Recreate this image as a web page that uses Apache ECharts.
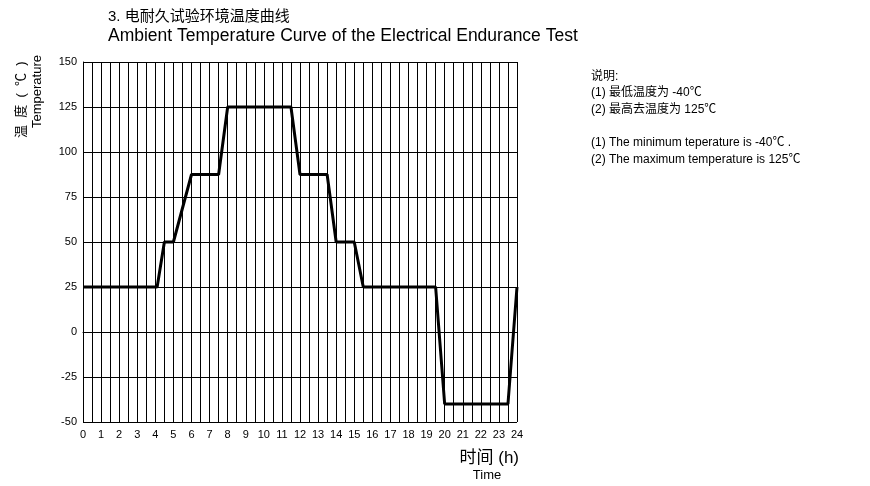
<!DOCTYPE html>
<html>
<head>
<meta charset="utf-8">
<script src="https://cdn.jsdelivr.net/npm/echarts@6/dist/echarts.min.js"></script>
<style>
  html, body { margin: 0; padding: 0; background: #fff; }
  #chart { width: 870px; height: 486px; }
</style>
</head>
<body>
<div id="chart"></div>
<script>
// 时间 (h) / 温度 (℃) 拐点
const hours = [0, 4.1, 4.5, 5, 6, 7.5, 8, 11.5, 12, 13.5, 14, 15, 15.5, 19.5, 20, 23.5, 24];
const temps = [25, 25, 50, 50, 87.5, 87.5, 125, 125, 87.5, 87.5, 50, 50, 25, 25, -40, -40, 25];

const titleLines = ['3. 电耐久试验环境温度曲线', 'Ambient Temperature Curve of the Electrical Endurance Test'];
const noteLines = [
  '说明:',
  '(1) 最低温度为 -40℃',
  '(2) 最高去温度为 125℃',
  '',
  '(1) The minimum teperature is -40℃ .',
  '(2) The maximum temperature is 125℃'
];

const font = '"Liberation Sans", Arial, "Noto Sans CJK SC", sans-serif';
const chart = echarts.init(document.getElementById('chart'));

chart.setOption({
  backgroundColor: '#fff',
  animation: false,
  textStyle: { fontFamily: font },
  grid: { left: 83, right: 353, top: 62, bottom: 64 },
  xAxis: {
    type: 'value',
    min: 0,
    max: 24,
    interval: 0.5,
    axisLine: { lineStyle: { color: '#000', width: 1 } },
    axisTick: { show: false },
    splitLine: { show: true, lineStyle: { color: '#000', width: 1 } },
    axisLabel: {
      color: '#000',
      fontSize: 11,
      margin: 7,
      formatter: v => (Number.isInteger(v) ? String(v) : '')
    }
  },
  yAxis: {
    type: 'value',
    min: -50,
    max: 150,
    interval: 25,
    axisLine: { show: true, lineStyle: { color: '#000', width: 1 } },
    axisTick: { show: false },
    splitLine: { show: true, lineStyle: { color: '#000', width: 1 } },
    axisLabel: { color: '#000', fontSize: 11, margin: 6 }
  },
  series: [{
    type: 'line',
    data: hours.map((h, i) => [h, temps[i]]),
    symbol: 'none',
    lineStyle: { color: '#000', width: 3 }
  }],
  graphic: [
    {
      type: 'text', left: 108, top: 9,
      style: { text: titleLines[0], font: '15px ' + font, fill: '#000' }
    },
    {
      type: 'text', left: 108, top: 27,
      style: { text: titleLines[1], font: '17.5px ' + font, fill: '#000' }
    },
    {
      type: 'text', x: 15, y: 138, rotation: Math.PI / 2,
      style: { text: '温  度  (  ℃  )', font: '13px ' + font, fill: '#000' }
    },
    {
      type: 'text', x: 31, y: 128, rotation: Math.PI / 2,
      style: { text: 'Temperature', font: '13px ' + font, fill: '#000' }
    },
    {
      type: 'text', x: 519, y: 458,
      style: { text: '时间 (h)', font: '17px ' + font, fill: '#000', align: 'right', verticalAlign: 'middle' }
    },
    {
      type: 'text', x: 487, y: 475,
      style: { text: 'Time', font: '13px ' + font, fill: '#000', align: 'center', verticalAlign: 'middle' }
    },
    {
      type: 'text', left: 591, top: 68,
      style: { text: noteLines.join('\n'), font: '12px ' + font, fill: '#000', lineHeight: 16.6 }
    }
  ]
});
</script>
</body>
</html>
